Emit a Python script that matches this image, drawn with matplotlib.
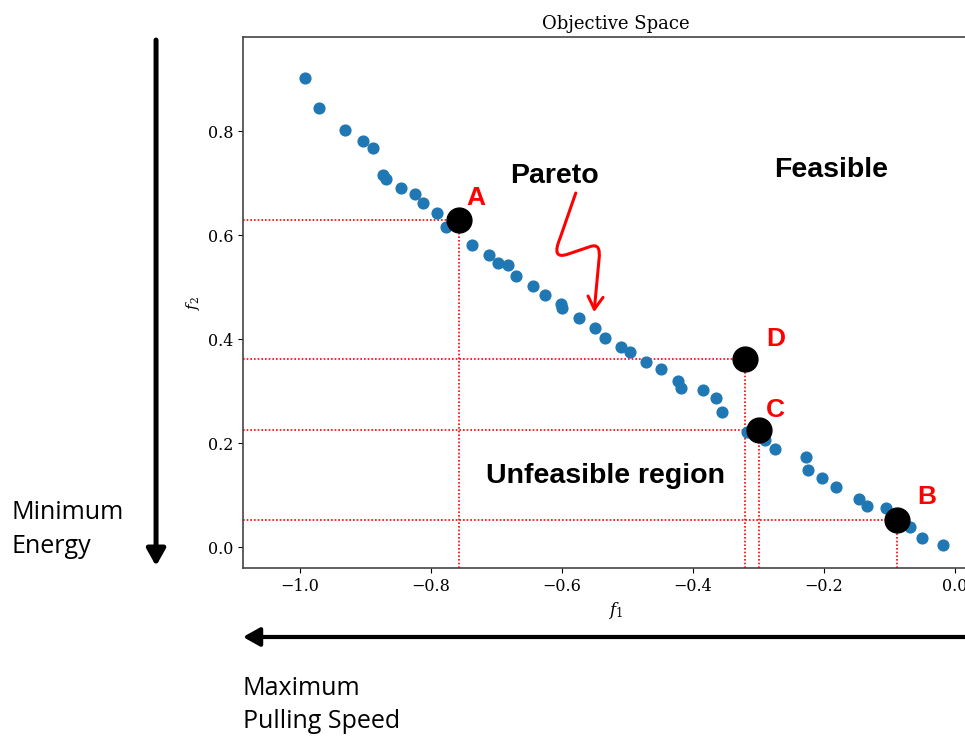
import matplotlib
matplotlib.use("Agg")
import matplotlib.pyplot as plt
from matplotlib.path import Path
from matplotlib.patches import FancyArrowPatch, ArrowStyle

# Pareto front samples
f1 = [-0.992, -0.971, -0.932, -0.904, -0.888, -0.873, -0.868, -0.846, -0.825,
      -0.812, -0.791, -0.777, -0.737, -0.712, -0.698, -0.682, -0.670, -0.645,
      -0.626, -0.601, -0.600, -0.574, -0.549, -0.534, -0.510, -0.496, -0.472,
      -0.449, -0.423, -0.419, -0.385, -0.365, -0.355, -0.317, -0.290, -0.275,
      -0.228, -0.224, -0.203, -0.181, -0.147, -0.135, -0.106, -0.068, -0.050,
      -0.018]
f2 = [0.903, 0.845, 0.803, 0.781, 0.767, 0.715, 0.708, 0.691, 0.679,
      0.662, 0.643, 0.615, 0.581, 0.561, 0.546, 0.542, 0.522, 0.503,
      0.485, 0.467, 0.460, 0.441, 0.422, 0.403, 0.385, 0.375, 0.356,
      0.343, 0.320, 0.306, 0.303, 0.286, 0.260, 0.222, 0.207, 0.189,
      0.174, 0.149, 0.134, 0.116, 0.092, 0.079, 0.076, 0.038, 0.017,
      0.004]

# highlighted solutions
sol_labels = ["A", "D", "C", "B"]
sol_f1 = [-0.757, -0.321, -0.300, -0.088]
sol_f2 = [0.629, 0.362, 0.226, 0.053]

# pareto arrow path (data coords)
squiggle_f1 = [-0.579, -0.603, -0.617, -0.591, -0.557, -0.540, -0.5435, -0.551]
squiggle_f2 = [0.681, 0.594, 0.552, 0.5635, 0.578, 0.586, 0.553, 0.452]

plt.rcParams["font.family"] = "DejaVu Serif"
plt.rcParams["mathtext.fontset"] = "dejavuserif"

fig = plt.figure(figsize=(9.65, 7.37), dpi=100)
ax = fig.add_axes([0.2518, 0.2293, 0.7718, 0.7205])

xmin, xmax = -1.087, 0.05
ymin, ymax = -0.040, 0.981
ax.set_xlim(xmin, xmax)
ax.set_ylim(ymin, ymax)

# dotted guide lines
for x, y in zip(sol_f1, sol_f2):
    ax.plot([xmin, x], [y, y], color="red", ls=(0, (1, 1.2)), lw=1.2, zorder=1)
    ax.plot([x, x], [ymin, y], color="red", ls=(0, (1, 1.2)), lw=1.2, zorder=1)

ax.scatter(f1, f2, s=60, color="#1f77b4", zorder=2)
ax.scatter(sol_f1, sol_f2, s=320, color="black", zorder=3)

# letters next to the black points (offsets in points)
offsets = [(12, 10.5), (22, 9.5), (12, 9), (21.5, 11.5)]
for lab, x, y, off in zip(sol_labels, sol_f1, sol_f2, offsets):
    ax.annotate(lab, (x, y), xytext=off, textcoords="offset points",
                ha="center", va="baseline", color="red", fontsize=19,
                fontweight="bold", family="Liberation Sans")

bold = dict(fontsize=20.5, fontweight="bold", family="Liberation Sans",
            color="black", ha="center", va="baseline")
ax.text(-0.611, 0.701, "Pareto", **bold)
ax.text(-0.189, 0.712, "Feasible", **bold)
ax.text(-0.533, 0.124, "Unfeasible region", **bold)

codes = [Path.MOVETO, Path.LINETO, Path.CURVE3, Path.CURVE3,
         Path.LINETO, Path.CURVE3, Path.CURVE3, Path.LINETO]
squiggle = Path(list(zip(squiggle_f1, squiggle_f2)), codes)
ax.add_patch(FancyArrowPatch(path=squiggle, transform=ax.transData,
                             arrowstyle=ArrowStyle("->", head_length=0.5, head_width=0.3),
                             mutation_scale=18, color="red", lw=2.2, zorder=4))

ax.set_title("Objective Space", fontsize=13)
ax.set_xlabel("$f_1$", fontsize=12)
ax.set_ylabel("$f_2$", fontsize=11)
ax.tick_params(labelsize=11.5)
for sp in ax.spines.values():
    sp.set_color("#444444")
    sp.set_linewidth(1.2)

# direction arrows outside the axes
head = ArrowStyle("-|>", head_length=0.5, head_width=0.28)
fig.add_artist(FancyArrowPatch((0.1617, 0.9457), (0.1617, 0.232),
                               transform=fig.transFigure, arrowstyle=head,
                               mutation_scale=20, lw=3.6, color="black",
                               shrinkA=0, shrinkB=0))
fig.add_artist(FancyArrowPatch((1.0, 0.1357), (0.2518, 0.1357),
                               transform=fig.transFigure, arrowstyle=head,
                               mutation_scale=20, lw=3.0, color="black",
                               shrinkA=0, shrinkB=0))

side = dict(fontsize=18, family="Open Sans", color="black", ha="left", va="baseline")
fig.text(0.012, 0.2958, "Minimum", **side)
fig.text(0.012, 0.2497, "Energy", **side)
fig.text(0.2515, 0.0570, "Maximum", **side)
fig.text(0.2515, 0.0120, "Pulling Speed", **side)

fig.savefig("out.png", dpi=100)
